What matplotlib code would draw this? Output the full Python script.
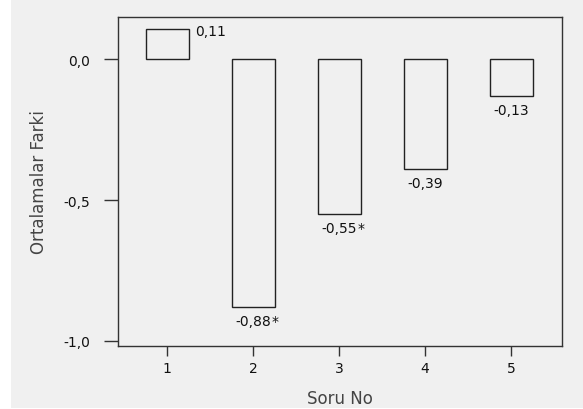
import matplotlib.pyplot as plt
from matplotlib.patches import Rectangle

# veriler
soru = [1, 2, 3, 4, 5]
fark = [0.11, -0.88, -0.55, -0.39, -0.13]
etiket = ["0,11", "-0,88", "-0,55", "-0,39", "-0,13"]
anlamli = [False, True, True, False, False]
yticks = [-1.0, -0.5, 0.0]
yticklabels = ["-1,0", "-0,5", "0,0"]

bg = "#f0f0f0"
fig = plt.figure(figsize=(5.83, 4.10), dpi=100, facecolor="white")
fig.patches.append(Rectangle((11 / 583, 1 / 410), 1, 408 / 410,
                             transform=fig.transFigure, facecolor=bg,
                             edgecolor="none", zorder=-1))
ax = fig.add_axes([118 / 583, 63 / 410, (562 - 118) / 583, (347 - 18) / 410])
ax.set_facecolor(bg)

ax.bar(soru, fark, width=0.5, facecolor=bg, edgecolor="#222222",
       linewidth=1.0, zorder=2)

for x, v, t, a in zip(soru, fark, etiket, anlamli):
    if v >= 0:
        ax.annotate(t, (x + 0.25, v), xytext=(5, -2), textcoords="offset points",
                    ha="left", va="center", fontsize=10, color="#111111")
    else:
        ax.annotate(t, (x, v), xytext=(0, -5), textcoords="offset points",
                    ha="center", va="top", fontsize=10, color="#111111")
        if a:
            ax.annotate("*", (x, v), xytext=(13.5, -5), textcoords="offset points",
                        ha="left", va="top", fontsize=10, color="#111111")

ax.set_xlim(0.43, 5.59)
ax.set_ylim(-1.018, 0.151)
ax.set_xticks(soru)
ax.set_xticklabels([str(s) for s in soru])
ax.set_yticks(yticks)
ax.set_yticklabels(yticklabels)

for s in ax.spines.values():
    s.set_color("#333333")
    s.set_linewidth(1.0)

ax.tick_params(axis="y", direction="out", length=10, width=1.0, pad=10,
               labelsize=10, colors="#333333", labelcolor="#111111")
ax.tick_params(axis="x", direction="out", length=7, width=1.0, pad=4,
               labelsize=10, colors="#333333", labelcolor="#111111")

ax.set_xlabel("Soru No", fontsize=12, color="#444444", labelpad=10)
ax.set_ylabel("Ortalamalar Farki", fontsize=12, color="#444444", labelpad=11)

plt.savefig("out.png", dpi=100, facecolor=fig.get_facecolor())
